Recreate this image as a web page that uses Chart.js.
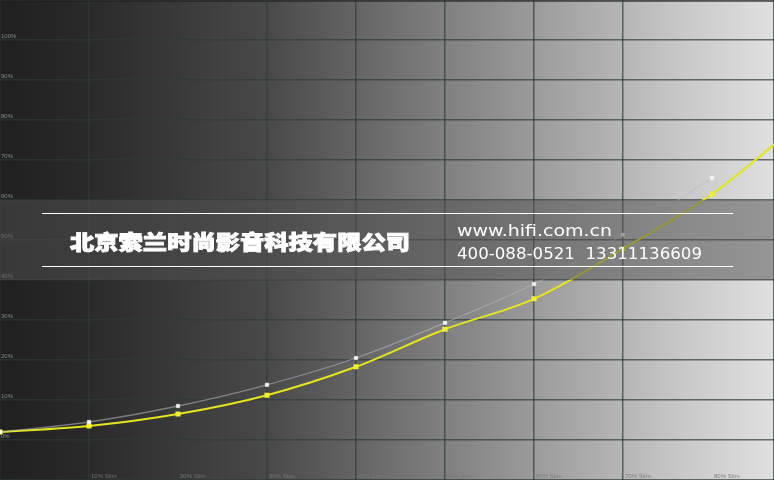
<!DOCTYPE html>
<html><head><meta charset="utf-8">
<script src="https://cdn.jsdelivr.net/npm/chart.js@4.4.1/dist/chart.umd.min.js"></script>
<style>html,body{margin:0;padding:0;background:#222;}canvas{display:block;}</style>
</head><body>
<canvas id="c" width="774" height="480"></canvas>
<script>
// ---- data ----
const stim = [0, 10, 20, 30, 40, 50, 60, 70, 80, 90];
const measured = [2.0, 3.5, 6.5, 11.2, 18.3, 27.7, 35.3, 47.8, 61.5, 79.5];
const refStim = [0, 10, 20, 30, 40, 50, 60, 70, 80];
const reference = [2.0, 4.5, 8.5, 13.8, 20.5, 29.3, 39.0, 51.3, 65.5];
const yTickValues = [0, 10, 20, 30, 40, 50, 60, 70, 80, 90, 100];
const yTickLabels = ['0%', '10%', '20%', '30%', '40%', '50%', '60%', '70%', '80%', '90%', '100%'];
const xTickValues = [10, 20, 30, 40, 50, 60, 70, 80, 90];
const xTickLabels = ['10% Stim', '20% Stim', '30% Stim', '40% Stim', '50% Stim', '60% Stim', '70% Stim', '80% Stim', '90% Stim'];
const companyName = '北京索兰时尚影音科技有限公司';
const website = 'www.hifi.com.cn';
const phones = '400-088-0521  13311136609';

const bgPlugin = {
  id: 'bg',
  beforeDraw(chart) {
    const {ctx} = chart;
    const g = ctx.createLinearGradient(0, 0, chart.width, 0);
    g.addColorStop(0, '#1f1f1f');
    g.addColorStop(0.13, '#2c2c2c');
    g.addColorStop(0.35, '#4a4a4a');
    g.addColorStop(0.55, '#7a7a7a');
    g.addColorStop(0.72, '#a2a2a2');
    g.addColorStop(0.88, '#c8c8c8');
    g.addColorStop(1, '#e0e0e0');
    ctx.save();
    ctx.fillStyle = g;
    ctx.fillRect(0, 0, chart.width, chart.height);
    ctx.fillStyle = 'rgba(30,30,30,0.6)';
    ctx.fillRect(0, 0, chart.width, 2);
    ctx.restore();
  }
};

const labelPlugin = {
  id: 'labels',
  afterDatasetsDraw(chart) {
    const {ctx} = chart;
    const xs = chart.scales.x, ys = chart.scales.y;
    ctx.save();
    ctx.font = '6px "Liberation Sans", Arial, sans-serif';
    ctx.fillStyle = 'rgba(150,150,150,0.9)';
    ctx.textBaseline = 'bottom';
    ctx.textAlign = 'left';
    yTickValues.forEach((v, i) => {
      ctx.fillText(yTickLabels[i], 1, ys.getPixelForValue(v) - 0.5);
    });
    ctx.fillStyle = 'rgba(120,120,120,0.9)';
    xTickValues.forEach((v, i) => {
      ctx.fillText(xTickLabels[i], xs.getPixelForValue(v) + 2, 479);
    });
    ctx.restore();
  }
};

const bandPlugin = {
  id: 'band',
  afterDraw(chart) {
    const {ctx} = chart;
    const ys = chart.scales.y;
    const top = ys.getPixelForValue(60), bot = ys.getPixelForValue(40);
    ctx.save();
    ctx.fillStyle = 'rgba(80,80,80,0.52)';
    ctx.fillRect(0, top, chart.width, bot - top);
    ctx.strokeStyle = '#ffffff';
    ctx.lineWidth = 1.2;
    ctx.beginPath();
    ctx.moveTo(42, 213.5); ctx.lineTo(733, 213.5);
    ctx.moveTo(42, 266.5); ctx.lineTo(733, 266.5);
    ctx.stroke();
    ctx.fillStyle = '#ffffff';
    ctx.strokeStyle = '#ffffff';
    ctx.lineWidth = 0.9;
    ctx.font = '900 20px "Noto Sans CJK SC", sans-serif';
    ctx.textBaseline = 'middle';
    ctx.textAlign = 'left';
    let w = ctx.measureText(companyName).width;
    ctx.save();
    ctx.translate(70, 242);
    ctx.scale(340 / w, 1);
    ctx.fillText(companyName, 0, 0);
    ctx.strokeText(companyName, 0, 0);
    ctx.restore();
    ctx.font = '16px "DejaVu Sans", sans-serif';
    ctx.textBaseline = 'alphabetic';
    w = ctx.measureText(website).width;
    ctx.save();
    ctx.translate(457, 236);
    ctx.scale(155 / w, 1);
    ctx.fillText(website, 0, 0);
    ctx.restore();
    w = ctx.measureText(phones).width;
    ctx.save();
    ctx.translate(457, 259);
    ctx.scale(245 / w, 1);
    ctx.fillText(phones, 0, 0);
    ctx.restore();
    ctx.restore();
  }
};

new Chart(document.getElementById('c'), {
  type: 'line',
  data: {
    datasets: [
      {
        label: 'Reference',
        data: refStim.map((s, i) => ({x: s, y: reference[i]})),
        borderColor: 'rgba(185,185,195,0.55)',
        borderWidth: 1.3,
        pointStyle: 'rect',
        pointRadius: 2.4,
        pointBackgroundColor: '#f4f4f4',
        pointBorderColor: '#ffffff',
        pointBorderWidth: 0.5,
        tension: 0.3,
        cubicInterpolationMode: 'monotone',
        clip: false,
        order: 1
      },
      {
        label: 'Measured',
        data: stim.map((s, i) => ({x: s, y: measured[i]})),
        borderColor: '#e4e420',
        borderWidth: 2,
        pointStyle: 'rect',
        pointRadius: 2.2,
        pointBackgroundColor: '#f0f030',
        pointBorderColor: '#f0f030',
        tension: 0.3,
        cubicInterpolationMode: 'monotone',
        clip: false,
        order: 2
      }
    ]
  },
  options: {
    responsive: false,
    animation: false,
    layout: {padding: 0, autoPadding: false},
    plugins: {legend: {display: false}, tooltip: {enabled: false}},
    scales: {
      x: {
        type: 'linear', min: 0, max: 774 / 8.9,
        afterFit(s) { s.height = 0; },
        border: {display: false},
        grid: {color: 'rgba(45,58,58,0.7)', lineWidth: 1.5, drawTicks: false},
        ticks: {display: false, stepSize: 10}
      },
      y: {
        type: 'linear', min: -10, max: 110,
        afterFit(s) { s.width = 0; },
        border: {display: false},
        grid: {color: 'rgba(45,58,58,0.7)', lineWidth: 1.5, drawTicks: false},
        ticks: {display: false, stepSize: 10}
      }
    }
  },
  plugins: [bgPlugin, labelPlugin, bandPlugin]
});
</script>
</body></html>
